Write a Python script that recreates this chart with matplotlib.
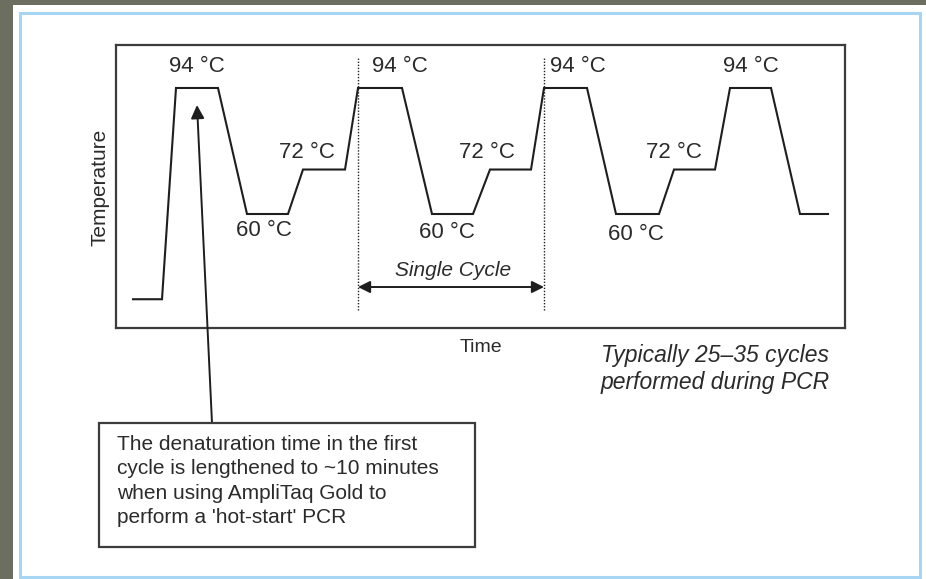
import matplotlib
matplotlib.use("Agg")
import matplotlib.pyplot as plt
from matplotlib.patches import Rectangle
from matplotlib.transforms import Affine2D

plt.rcParams['font.family'] = ['Liberation Sans', 'DejaVu Sans']

# ---------------- data ----------------
time_points = [17, 46, 60, 102, 131, 172, 187, 229, 242, 286, 316, 357,
               374, 415, 428, 471, 500, 543, 558, 599, 614, 655, 684, 712]
temperature_c = [37, 37, 94, 94, 60, 60, 72, 72, 94, 94, 60, 60,
                 72, 72, 94, 94, 60, 60, 72, 72, 94, 94, 60, 60]
denature_labels = ['94 °C', '94 °C', '94 °C', '94 °C']
extend_labels = ['72 °C', '72 °C', '72 °C']
anneal_labels = ['60 °C', '60 °C', '60 °C']
cycle_start_idx = 8
cycle_end_idx = 14
x_label = 'Time'
y_label = 'Temperature'
cycle_label = 'Single Cycle'
note_text = ("The denaturation time in the first\n"
             "cycle is lengthened to ~10 minutes\n"
             "when using AmpliTaq Gold to\n"
             "perform a 'hot-start' PCR")
cycles_text = "Typically 25\u201335 cycles\nperformed during PCR"

# ---------------- layout ----------------
W, H = 926, 579
fig = plt.figure(figsize=(W / 100, H / 100), dpi=100)
fig.patch.set_facecolor('#6c6e5f')
pix = Affine2D().scale(1 / W, -1 / H).translate(0, 1) + fig.transFigure

TXT = '#2b2b2b'

# white panel and light-blue frame
fig.add_artist(Rectangle((13, 5), W - 13, H - 5, transform=pix,
                         facecolor='white', edgecolor='none', zorder=0))
fig.add_artist(Rectangle((20, 13), 900, 564, transform=pix,
                         facecolor='none', edgecolor='#a6d6f4', lw=2.2, zorder=1))

# main plot box
bx0, by0, bx1, by1 = 116, 45, 845, 328
ax = fig.add_axes([bx0 / W, 1 - by1 / H, (bx1 - bx0) / W, (by1 - by0) / H])
ax.set_xlim(0, 729)
ax.set_ylim(29.24, 105.6)
ax.set_xticks([])
ax.set_yticks([])
for s in ax.spines.values():
    s.set_color('#3c3c3c')
    s.set_linewidth(1.6)
ax.set_facecolor('none')

ax.plot(time_points, temperature_c, color='#1e1e1e', lw=1.5,
        solid_joinstyle='miter')

# dotted cycle boundaries and double arrow
t0 = time_points[cycle_start_idx]
t1 = time_points[cycle_end_idx]
ax.vlines([t0, t1], 34.1, 102.1, colors='#222222', linestyles=(0, (1, 1.2)), lw=1.0)
ax.annotate('', xy=(t1, 40.3), xytext=(t0, 40.3),
            arrowprops=dict(arrowstyle='<|-|>', color='#1e1e1e', lw=1.4,
                            mutation_scale=18, shrinkA=0, shrinkB=0))
fig.text(453, 270, cycle_label, transform=pix, ha='center', va='center',
         fontsize=15, style='italic', color=TXT)

# step temperature labels
for lab, x in zip(denature_labels, [197, 400, 578, 751]):
    fig.text(x, 67, lab, transform=pix, ha='center', va='center', fontsize=16, color=TXT)
for lab, x in zip(extend_labels, [307, 487, 674]):
    fig.text(x, 152, lab, transform=pix, ha='center', va='center', fontsize=16, color=TXT)
for lab, (x, y) in zip(anneal_labels, [(264, 230), (447, 232), (636, 235)]):
    fig.text(x, y, lab, transform=pix, ha='center', va='center', fontsize=16, color=TXT)

# axis titles
fig.text(100, 187, y_label, transform=pix, rotation=90, ha='center', va='center',
         fontsize=15, color=TXT)
fig.text(481, 347, x_label, transform=pix, ha='center', va='center',
         fontsize=14, color=TXT)
fig.text(715, 369, cycles_text, transform=pix, ha='center', va='center',
         fontsize=16.5, style='italic', color=TXT, linespacing=1.25)

# annotation box and arrow
fig.add_artist(Rectangle((99, 423), 376, 124, transform=pix,
                         facecolor='white', edgecolor='#3c3c3c', lw=1.6, zorder=2))
fig.text(117, 435, note_text, transform=pix, ha='left', va='top',
         fontsize=15, color=TXT, linespacing=1.36, zorder=3)
ax.annotate('', xy=(81, 89.4), xycoords='data', xytext=(212, 423), textcoords=pix,
            arrowprops=dict(arrowstyle='-|>', color='#1e1e1e', lw=1.4,
                            mutation_scale=20, shrinkA=0, shrinkB=0),
            annotation_clip=False)

fig.savefig('out.png', dpi=100, facecolor=fig.get_facecolor())
